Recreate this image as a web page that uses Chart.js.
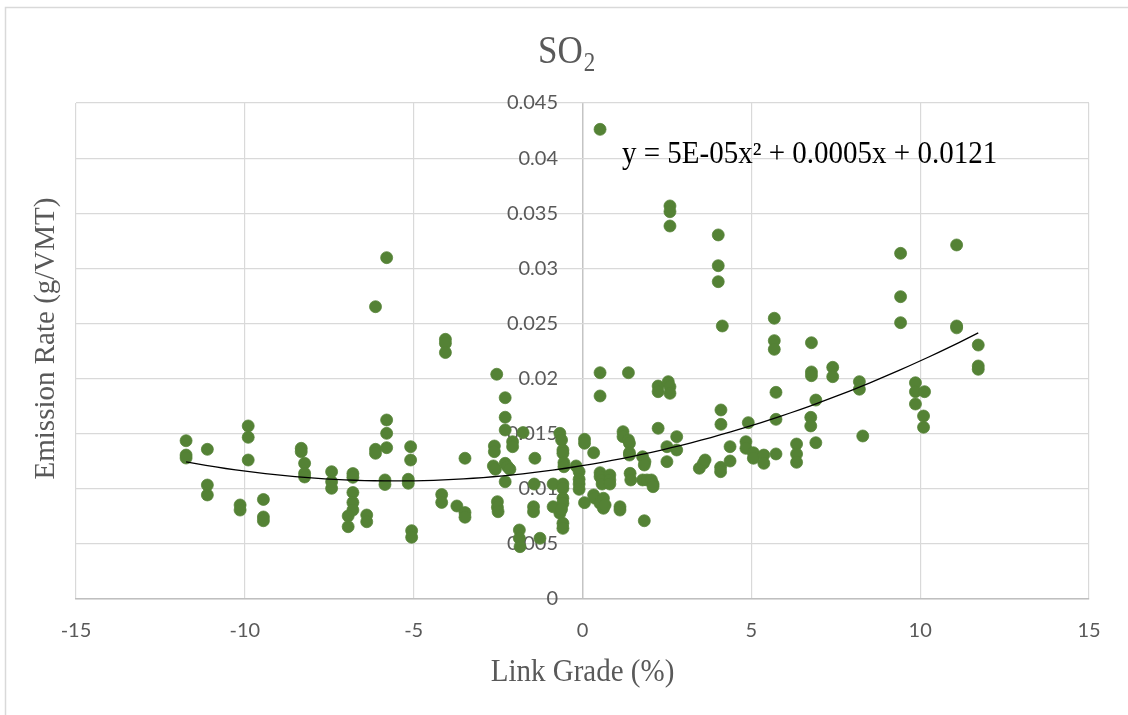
<!DOCTYPE html>
<html><head><meta charset="utf-8">
<script src="https://cdn.jsdelivr.net/npm/chart.js@4.4.1/dist/chart.umd.min.js"></script>
<style>html,body{margin:0;padding:0;background:#fff;}canvas{display:block;}</style>
</head><body>
<canvas id="c" width="1128" height="715"></canvas>
<script>
const chartTitle = 'SO';
const chartTitleSub = '2';
const xAxisTitle = 'Link Grade (%)';
const yAxisTitle = 'Emission Rate (g/VMT)';
const equationLabel = 'y = 5E-05x\u00B2 + 0.0005x + 0.0121';
const xTickRange = [-15, 15, 5];
const yTickRange = [0, 0.045, 0.005];
// polynomial trendline coefficients (constant, x, x^2) as drawn in the chart
const trendCoef = [0.0121, 0.0005, 0.000045];

const linkGrade = [
  -11.74,-11.74,-11.74,-11.11,-11.11,-11.11,-10.14,-10.14,-9.90,-9.90,-9.90,-9.45,-9.45,-9.45,
  -8.33,-8.33,-8.23,-8.23,-8.23,-7.43,-7.43,-7.43,-6.80,-6.80,-6.80,-6.80,-6.80,-6.94,-6.94,
  -6.39,-6.39,-6.13,-6.13,-6.13,-5.80,-5.80,-5.80,-5.80,-5.85,-5.85,-5.09,-5.09,-5.16,-5.16,
  -5.06,-5.06,-4.17,-4.17,-4.06,-4.06,-4.06,-3.72,-3.48,-3.48,-3.48,
  -2.54,-2.61,-2.61,-2.64,-2.58,-2.52,-2.52,-2.50,-2.29,-2.29,-2.29,-2.29,-2.22,-2.15,-2.29,
  -2.07,-2.07,-1.87,-1.87,-1.85,-1.76,-1.41,-1.43,-1.45,-1.45,-1.26,
  -0.87,-0.87,-0.67,-0.62,-0.67,-0.58,-0.58,-0.55,-0.55,-0.58,-0.58,-0.58,-0.58,-0.62,-0.58,-0.58,
  -0.19,-0.10,-0.10,-0.10,-0.10,0.06,0.06,0.06,0.33,0.33,0.37,
  0.52,0.52,0.52,0.52,0.52,0.52,0.58,0.58,0.62,0.62,0.67,0.81,0.81,0.81,1.11,1.11,
  1.20,1.20,1.36,1.36,1.39,1.39,1.39,1.41,1.43,1.83,1.78,1.78,1.85,1.83,1.91,2.04,2.09,2.09,
  2.24,2.24,2.24,2.54,2.59,2.59,2.59,2.59,2.59,2.50,2.50,2.79,2.79,3.46,3.58,3.63,
  4.02,4.02,4.02,4.14,4.10,4.10,4.09,4.09,4.37,4.37,4.91,4.84,4.84,5.06,5.06,5.37,5.37,
  5.68,5.68,5.68,5.73,5.73,5.73,6.34,6.34,6.34,6.78,6.78,6.78,6.76,6.76,6.91,6.91,7.41,7.41,
  8.20,8.20,8.30,9.42,9.42,9.42,9.86,9.86,9.86,10.13,10.10,10.10,11.08,11.08,11.08,11.72,11.72,11.72
];
const emissionRate = [
  0.01436,0.01306,0.01279,0.01358,0.01034,0.00944,0.00853,0.00807,0.01570,0.01467,0.01261,0.00903,0.00744,0.00710,
  0.01367,0.01336,0.01231,0.01140,0.01107,0.01155,0.01064,0.01004,0.01138,0.01104,0.00966,0.00876,0.00807,0.00753,0.00656,
  0.00762,0.00701,0.02652,0.01358,0.01322,0.03097,0.01624,0.01503,0.01373,0.01080,0.01039,0.01382,0.01261,0.01086,0.01050,
  0.00620,0.00560,0.00948,0.00876,0.02356,0.02320,0.02236,0.00844,0.01277,0.00784,0.00742,
  0.02039,0.01388,0.01337,0.01207,0.01177,0.00883,0.00832,0.00792,0.01826,0.01649,0.01533,0.01231,0.01200,0.01177,0.01064,
  0.01427,0.01382,0.00626,0.00551,0.00475,0.01510,0.01277,0.01043,0.00837,0.00792,0.00551,
  0.01043,0.00837,0.01503,0.01443,0.00778,0.01352,0.01322,0.01237,0.01200,0.01043,0.01004,0.00914,0.00868,0.00814,0.00687,0.00641,
  0.01207,0.01155,0.01086,0.01043,0.00995,0.01449,0.01413,0.00874,0.01327,0.00944,0.00914,
  0.04261,0.02053,0.01842,0.01146,0.01110,0.00868,0.01080,0.01043,0.00914,0.00823,0.00853,0.01125,0.01080,0.01043,0.00837,0.00807,
  0.01518,0.01473,0.02053,0.01443,0.01413,0.01327,0.01306,0.01140,0.01080,0.00710,0.01291,0.01080,0.01246,0.01216,0.01080,0.01080,0.01043,0.01019,
  0.01549,0.01932,0.01881,0.01972,0.01926,0.01866,0.03566,0.03514,0.03384,0.01382,0.01246,0.01473,0.01352,0.01186,0.01231,0.01261,
  0.03303,0.03024,0.02879,0.02477,0.01715,0.01585,0.01195,0.01155,0.01382,0.01252,0.01600,0.01427,0.01367,0.01327,0.01277,0.01306,0.01231,
  0.02547,0.02344,0.02265,0.01875,0.01630,0.01316,0.01406,0.01316,0.01240,0.02325,0.02060,0.02026,0.01648,0.01570,0.01805,0.01418,0.02102,0.02017,
  0.01972,0.01903,0.01479,0.03136,0.02743,0.02507,0.01962,0.01881,0.01769,0.01881,0.01660,0.01558,0.03212,0.02477,0.02460,0.02304,0.02114,0.02084
];

const xMin = Math.min(...linkGrade), xMax = Math.max(...linkGrade);
const trend = [];
for (let i = 0; i <= 80; i++) {
  const x = xMin + (xMax - xMin) * i / 80;
  trend.push({x, y: trendCoef[0] + trendCoef[1] * x + trendCoef[2] * x * x});
}
const points = linkGrade.map((x, i) => ({x, y: emissionRate[i]}));

function drawText(ctx, str, x, y, o) {
  ctx.save();
  ctx.translate(x, y);
  if (o.rotate) ctx.rotate(o.rotate);
  ctx.scale(o.sx || 1, o.sy || 1);
  ctx.font = o.font;
  ctx.fillStyle = o.color;
  ctx.textAlign = o.align || 'left';
  ctx.textBaseline = 'alphabetic';
  ctx.fillText(str, 0, 0);
  const w = ctx.measureText(str).width;
  ctx.restore();
  return w;
}

const decor = {
  id: 'decor',
  beforeDraw(chart) {
    const ctx = chart.ctx;
    ctx.save();
    ctx.fillStyle = '#fff';
    ctx.fillRect(0, 0, chart.width, chart.height);
    ctx.strokeStyle = '#d9d9d9';
    ctx.lineWidth = 1.5;
    ctx.strokeRect(5.5, 7.5, 1200, 800);
    ctx.restore();
  },
  afterDraw(chart) {
    const ctx = chart.ctx;
    const serif = '"Liberation Serif", "Times New Roman", serif';
    const w = drawText(ctx, chartTitle, 538, 63, {font: '35px ' + serif, color: '#595959', sy: 1.15});
    drawText(ctx, chartTitleSub, 538 + w + 1, 70.5, {font: '23px ' + serif, color: '#595959', sy: 1.15});
    drawText(ctx, equationLabel, 622, 162.5, {font: '29px ' + serif, color: '#000', sy: 1.06});
    drawText(ctx, xAxisTitle, 582.5, 681, {font: '29px ' + serif, color: '#595959', align: 'center', sy: 1.1});
    drawText(ctx, yAxisTitle, 54, 338.5, {font: '29px ' + serif, color: '#595959', align: 'center', rotate: -Math.PI / 2});
  }
};

new Chart(document.getElementById('c'), {
  type: 'scatter',
  data: {
    datasets: [
      {
        label: 'Trend',
        data: trend,
        showLine: true,
        borderColor: '#000',
        borderWidth: 1.3,
        pointRadius: 0,
        fill: false,
        order: 0
      },
      {
        label: 'SO2',
        data: points,
        backgroundColor: '#548235',
        borderColor: '#548235',
        borderWidth: 0.75,
        pointRadius: 6,
        order: 1
      }
    ]
  },
  options: {
    responsive: false,
    animation: false,
    devicePixelRatio: 1,
    layout: {padding: {left: 76, right: 39, top: 103, bottom: 0}},
    plugins: {legend: {display: false}, tooltip: {enabled: false}, title: {display: false}},
    events: [],
    scales: {
      x: {
        type: 'linear',
        position: 'bottom',
        min: xTickRange[0], max: xTickRange[1],
        afterFit(s) { s.height = 116; },
        ticks: {stepSize: xTickRange[2], padding: 20, color: '#595959', font: {family: 'Lato', size: 20}},
        grid: {
          drawTicks: false,
          color: c => (c.tick && c.tick.value === 0) ? '#c4c4c4' : '#d9d9d9',
          lineWidth: c => (c.tick && c.tick.value === 0) ? 1.5 : 1.2
        },
        border: {color: '#bfbfbf', width: 1.5}
      },
      y: {
        type: 'linear',
        axis: 'y',
        position: {x: -0.725},
        min: yTickRange[0], max: yTickRange[1],
        ticks: {
          stepSize: yTickRange[2],
          color: '#595959',
          font: {family: 'Lato', size: 20},
          callback: v => String(+v.toFixed(3))
        },
        grid: {drawTicks: false, color: '#d9d9d9', lineWidth: 1.2},
        border: {display: false}
      }
    }
  },
  plugins: [decor]
});
</script>
</body></html>
